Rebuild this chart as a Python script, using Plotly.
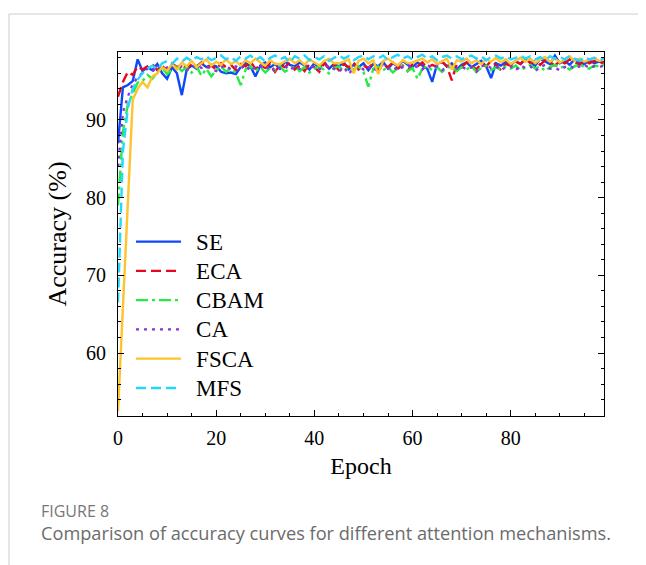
import plotly.graph_objects as go

epochs = list(range(100))

se = [87.0, 94.2, 94.5, 95.0, 97.8, 96.3, 96.8, 96.4, 97.2, 96.0,
      95.3, 96.8, 96.0, 93.2, 96.5, 97.0, 96.6, 97.3, 96.8, 97.1,
      96.9, 96.2, 96.0, 96.1, 95.9, 96.8, 97.3, 96.9, 95.6, 97.0,
      97.4, 96.8, 97.2, 96.6, 97.5, 97.1, 96.9, 97.4, 97.0, 96.5,
      97.3, 96.7, 97.5, 96.6, 97.2, 96.9, 97.4, 96.5, 97.1, 96.8,
      97.3, 96.4, 97.2, 96.9, 97.5, 96.6, 97.3, 96.9, 97.6, 97.1,
      96.8, 97.4, 97.0, 96.6, 94.9, 97.2, 97.5, 96.9, 97.3, 96.5,
      97.1, 97.4, 96.8, 97.2, 97.6, 96.9, 95.4, 97.3, 97.0, 97.5,
      97.1, 97.6, 97.2, 97.8, 97.4, 97.0, 97.9, 97.5, 97.2, 98.3,
      97.3, 97.6, 97.1, 97.8, 97.4, 97.2, 97.7, 97.3, 97.5, 97.4]

eca = [93.0, 94.9, 96.2, 95.8, 96.9, 96.5, 96.9, 97.2, 96.4, 97.0,
       96.3, 97.3, 96.8, 97.1, 96.6, 97.2, 96.9, 97.4, 96.7, 97.0,
       96.5, 97.3, 96.8, 97.1, 96.4, 97.2, 96.9, 97.5, 96.6, 97.0,
       96.7, 97.3, 96.2, 97.1, 96.8, 97.4, 96.5, 97.0, 96.3, 97.2,
       96.8, 96.2, 97.3, 96.6, 97.1, 96.4, 97.2, 96.8, 97.4, 96.5,
       97.0, 96.7, 97.3, 96.4, 97.1, 96.8, 97.4, 96.6, 97.0, 96.3,
       97.2, 96.9, 97.4, 96.7, 97.1, 96.8, 97.5, 96.9, 95.1, 97.2,
       96.8, 97.4, 97.0, 96.5, 97.3, 96.9, 97.6, 97.1, 96.4, 97.2,
       97.0, 97.5, 97.2, 98.0, 97.3, 97.6, 97.1, 97.7, 97.4, 97.0,
       97.6, 97.3, 97.8, 97.4, 97.1, 97.7, 97.3, 97.6, 97.2, 97.5]

cbam = [79.0, 88.5, 92.0, 93.5, 94.8, 95.0, 95.8, 95.3, 96.2, 96.7,
        95.9, 96.5, 97.0, 96.3, 96.8, 96.1, 96.9, 95.7, 96.6, 95.6,
        96.4, 96.9, 96.2, 96.7, 96.0, 94.5, 96.5, 96.9, 96.3, 96.8,
        96.1, 96.7, 96.4, 96.9, 96.2, 96.6, 96.9, 96.3, 96.8, 96.1,
        96.6, 96.9, 96.4, 96.0, 96.7, 96.9, 96.3, 96.8, 96.5, 96.9,
        96.2, 94.3, 96.6, 96.9, 96.4, 96.8, 96.1, 96.7, 96.9, 96.3,
        96.7, 95.3, 96.6, 96.9, 96.4, 96.8, 96.2, 96.7, 96.9, 96.3,
        96.8, 96.5, 96.9, 96.2, 96.7, 97.0, 96.4, 96.8, 96.5, 96.9,
        96.6, 97.0, 96.4, 96.8, 97.1, 96.6, 96.9, 96.3, 96.8, 97.1,
        96.7, 96.9, 96.5, 96.9, 97.2, 96.8, 96.6, 97.0, 96.9, 97.1]

ca = [84.0, 91.0, 93.0, 94.6, 95.5, 96.0, 96.6, 96.2, 96.9, 96.5,
      96.8, 97.0, 96.6, 96.9, 96.4, 96.8, 97.1, 96.7, 96.9, 96.6,
      96.3, 96.8, 97.0, 96.5, 96.9, 96.6, 97.1, 96.3, 96.8, 97.0,
      96.5, 96.9, 96.2, 96.7, 97.0, 96.4, 96.9, 96.6, 97.1, 96.7,
      96.9, 96.5, 96.8, 97.0, 96.6, 96.2, 96.8, 95.9, 96.7, 97.0,
      96.5, 96.9, 96.3, 96.8, 97.1, 96.6, 96.9, 96.4, 96.8, 97.0,
      96.6, 96.9, 96.5, 97.1, 96.7, 96.9, 96.4, 96.8, 97.0, 96.6,
      96.9, 96.5, 96.8, 96.2, 96.9, 97.1, 96.7, 96.9, 96.4, 96.8,
      96.9, 96.4, 97.0, 96.7, 96.9, 96.3, 96.8, 97.1, 96.6, 96.7,
      96.4, 96.8, 97.0, 96.6, 96.9, 97.1, 96.7, 96.9, 96.8, 97.0]

fsca = [52.5, 65.8, 79.2, 92.6, 94.0, 94.9, 94.2, 95.6, 96.0, 96.8,
        96.3, 97.2, 96.5, 97.4, 96.9, 97.6, 96.8, 97.3, 97.8, 97.0,
        97.5, 97.1, 97.8, 97.2, 97.6, 97.0, 97.7, 97.3, 97.9, 97.4,
        97.0, 97.7, 97.2, 97.2, 97.6, 97.9, 97.3, 97.7, 97.1, 97.8,
        97.4, 97.0, 97.6, 97.9, 97.3, 97.3, 97.5, 97.8, 96.0, 97.6,
        97.9, 97.3, 97.7, 95.9, 97.6, 97.9, 97.4, 97.0, 97.7, 97.3,
        97.4, 97.6, 97.9, 97.4, 97.8, 97.2, 97.6, 97.9, 96.5, 97.7,
        97.5, 97.9, 97.3, 97.7, 97.2, 97.8, 97.5, 98.0, 97.4, 97.8,
        97.2, 97.6, 98.0, 97.5, 97.9, 97.3, 97.8, 98.1, 97.5, 97.9,
        97.4, 97.8, 98.2, 97.6, 97.9, 97.5, 97.8, 98.0, 97.6, 97.8]

mfs = [66.5, 86.0, 91.5, 94.0, 95.2, 96.0, 96.6, 97.0, 96.5, 97.3,
       97.6, 97.2, 97.9, 97.5, 98.0, 97.6, 98.1, 97.8, 98.2, 97.7,
       98.0, 98.3, 97.8, 98.1, 97.6, 98.2, 97.9, 98.3, 97.7, 98.1,
       97.5, 98.0, 98.3, 97.8, 98.1, 97.4, 98.2, 97.9, 98.3, 97.7,
       98.1, 97.8, 98.2, 97.6, 98.0, 98.3, 97.9, 98.2, 97.7, 98.1,
       98.3, 97.8, 98.2, 97.9, 98.3, 97.7, 98.1, 98.4, 97.9, 98.2,
       97.8, 98.1, 98.4, 97.9, 98.2, 97.7, 98.1, 98.3, 97.9, 98.2,
       97.8, 98.1, 98.3, 97.9, 98.2, 97.7, 98.1, 98.3, 97.9, 98.2,
       97.8, 98.0, 98.3, 97.9, 98.2, 97.8, 98.1, 97.7, 98.2, 97.9,
       98.1, 97.8, 98.2, 97.9, 97.6, 98.1, 97.8, 98.0, 97.7, 97.9]

names = ["SE", "ECA", "CBAM", "CA", "FSCA", "MFS"]
series = [se, eca, cbam, ca, fsca, mfs]
colors = ["#0d49fb", "#e6091c", "#26eb47", "#8936df", "#fec32d", "#25d7fd"]
dashes = ["solid", "10px,5px", "12px,4px,3px,4px", "3px,5px", "solid", "10px,5px"]

x_ticks = [0, 20, 40, 60, 80]
y_ticks = [60, 70, 80, 90]

# page body has an 8px margin; figure is sized so the plot lands where the reference has it
OFF = 8
W, H = 638, 557
L, R, T, B = 110, 42, 44, 149
pw, ph = W - L - R, H - T - B

fig = go.Figure()
for n, s, c, d in zip(names, series, colors, dashes):
    label = "\u00a0\u00a0<span style='font-size:23px'>" + n + "</span>"
    fig.add_trace(go.Scatter(x=epochs, y=s, mode="lines", name=label,
                             line=dict(color=c, width=2.4, dash=d)))

serif = "Liberation Serif"
axis_common = dict(showline=True, linecolor="black", linewidth=1.2, mirror="allticks",
                   ticks="inside", ticklen=6, tickwidth=1.1, tickcolor="black",
                   showgrid=False, zeroline=False,
                   tickfont=dict(family=serif, size=20, color="black"))

fig.update_xaxes(range=[0, 99], tickvals=x_ticks, ticklabelstandoff=4,
                 minor=dict(ticks="inside", ticklen=3, tickwidth=1, dtick=5, tick0=0, tickcolor="black"),
                 title=dict(text="Epoch", font=dict(family=serif, size=24, color="black"), standoff=9),
                 **axis_common)
fig.update_yaxes(range=[51.9, 98.75], tickvals=y_ticks, ticklabelstandoff=7,
                 minor=dict(ticks="inside", ticklen=3, tickwidth=1, dtick=2, tick0=0, tickcolor="black"),
                 title=dict(text="Accuracy (%)", font=dict(family=serif, size=26, color="black"), standoff=11),
                 **axis_common)


def px_x(p):
    return (p - OFF - L) / pw


def px_y(p):
    return (H - B - (p - OFF)) / ph


shapes = [
    dict(type="line", xref="paper", yref="paper", x0=px_x(9), x1=px_x(9), y0=px_y(14), y1=px_y(570),
         line=dict(color="#cccccc", width=1)),
    dict(type="line", xref="paper", yref="paper", x0=px_x(9), x1=px_x(650), y0=px_y(14), y1=px_y(14),
         line=dict(color="#cccccc", width=1)),
]

annotations = [
    dict(text="FIGURE 8", xref="paper", yref="paper", x=px_x(39), y=px_y(511), xanchor="left", yanchor="middle",
         showarrow=False, font=dict(family="Open Sans", size=16, color="#777777")),
    dict(text="Comparison of accuracy curves for different attention mechanisms.", xref="paper", yref="paper",
         x=px_x(39), y=px_y(533), xanchor="left", yanchor="middle",
         showarrow=False, font=dict(family="Open Sans", size=18.2, color="#6b6b6b")),
]

fig.update_layout(
    width=W, height=H, margin=dict(l=L, r=R, t=T, b=B),
    paper_bgcolor="white", plot_bgcolor="white",
    showlegend=True,
    legend=dict(x=px_x(131), y=px_y(222), xanchor="left", yanchor="top",
                bgcolor="rgba(0,0,0,0)", borderwidth=0, itemwidth=45,
                font=dict(family=serif, size=20.2, color="black"), tracegroupgap=0),
    shapes=shapes, annotations=annotations,
)

fig.write_html("out.html")
